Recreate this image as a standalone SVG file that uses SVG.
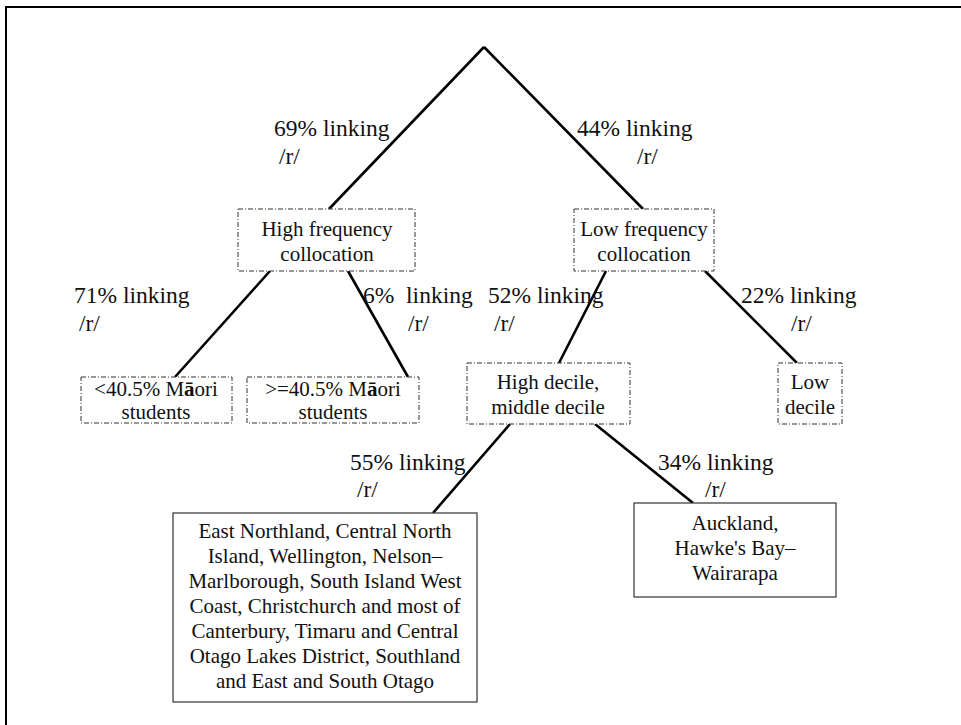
<svg xmlns="http://www.w3.org/2000/svg" width="961" height="725" viewBox="0 0 961 725">
  <style>
    text { font-family: "Liberation Serif", "Times New Roman", serif; font-size: 21px; fill: #111; }
    .lbl { font-size: 23.5px; }
    .mid { text-anchor: middle; }
    .pre { white-space: pre; }
    .mac { font-weight: bold; }
    .branch { stroke: #000; stroke-width: 2.6; fill: none; }
    .dashbox { fill: #fff; stroke: #333; stroke-width: 1; stroke-dasharray: 5 2 1 2; }
    .solidbox { fill: #fff; stroke: #333; stroke-width: 1.2; }
    .frame { stroke: #000; stroke-width: 2; fill: none; }
  </style>

  <rect width="961" height="725" fill="#fff"/>
  <path class="frame" d="M 6 725 V 7 H 961"/>

  <!-- tree branches -->
  <g id="connectors">
    <path class="branch" d="M 484 47 L 329 209"/>
    <path class="branch" d="M 484 47 L 643 209"/>
    <path class="branch" d="M 270 271 L 175 377"/>
    <path class="branch" d="M 348 271 L 408 377"/>
    <path class="branch" d="M 606 271 L 559 363"/>
    <path class="branch" d="M 705 271 L 797 363"/>
    <path class="branch" d="M 510 424 L 433 513"/>
    <path class="branch" d="M 595 424 L 693 503"/>
  </g>

  <!-- branch labels -->
  <g id="labels">
    <text class="lbl" x="274" y="136">69% linking</text>
    <text class="lbl" x="279" y="164">/r/</text>
    <text class="lbl" x="577" y="136">44% linking</text>
    <text class="lbl" x="637" y="164">/r/</text>
    <text class="lbl" x="74" y="303">71% linking</text>
    <text class="lbl" x="79" y="331">/r/</text>
    <text class="lbl pre" x="363" y="303">6%  linking</text>
    <text class="lbl" x="408" y="331">/r/</text>
    <text class="lbl" x="488" y="303">52% linking</text>
    <text class="lbl" x="494" y="331">/r/</text>
    <text class="lbl" x="741" y="303">22% linking</text>
    <text class="lbl" x="791" y="331">/r/</text>
    <text class="lbl" x="350" y="470">55% linking</text>
    <text class="lbl" x="357" y="497">/r/</text>
    <text class="lbl" x="658" y="470">34% linking</text>
    <text class="lbl" x="705" y="497">/r/</text>
  </g>

  <g id="high-frequency">
    <rect class="dashbox" x="238" y="209" width="177" height="62"/>
    <text class="mid" x="327" y="236">High frequency</text>
    <text class="mid" x="327" y="261">collocation</text>
  </g>

  <g id="low-frequency">
    <rect class="dashbox" x="574" y="209" width="140" height="62"/>
    <text class="mid" x="644" y="236">Low frequency</text>
    <text class="mid" x="644" y="261">collocation</text>
  </g>

  <g id="maori-low">
    <rect class="dashbox" x="81" y="377" width="151" height="46"/>
    <text class="mid" x="156" y="396">&lt;40.5% M<tspan class="mac">ā</tspan>ori</text>
    <text class="mid" x="156" y="419">students</text>
  </g>

  <g id="maori-high">
    <rect class="dashbox" x="247" y="377" width="172" height="46"/>
    <text class="mid" x="333" y="396">&gt;=40.5% M<tspan class="mac">ā</tspan>ori</text>
    <text class="mid" x="333" y="419">students</text>
  </g>

  <g id="high-middle-decile">
    <rect class="dashbox" x="467" y="363" width="163" height="61"/>
    <text class="mid" x="548" y="389">High decile,</text>
    <text class="mid" x="548" y="414">middle decile</text>
  </g>

  <g id="low-decile">
    <rect class="dashbox" x="778" y="363" width="64" height="61"/>
    <text class="mid" x="810" y="389">Low</text>
    <text class="mid" x="810" y="414">decile</text>
  </g>

  <g id="regions-a">
    <rect class="solidbox" x="173" y="513" width="304" height="189"/>
    <text class="mid" x="325" y="538">East Northland, Central North</text>
    <text class="mid" x="325" y="563">Island, Wellington, Nelson–</text>
    <text class="mid" x="325" y="588">Marlborough, South Island West</text>
    <text class="mid" x="325" y="613">Coast, Christchurch and most of</text>
    <text class="mid" x="325" y="638">Canterbury, Timaru and Central</text>
    <text class="mid" x="325" y="663">Otago Lakes District, Southland</text>
    <text class="mid" x="325" y="688">and East and South Otago</text>
  </g>

  <g id="regions-b">
    <rect class="solidbox" x="634" y="503" width="202" height="94"/>
    <text class="mid" x="735" y="530">Auckland,</text>
    <text class="mid" x="735" y="555">Hawke's Bay–</text>
    <text class="mid" x="735" y="580">Wairarapa</text>
  </g>
</svg>
